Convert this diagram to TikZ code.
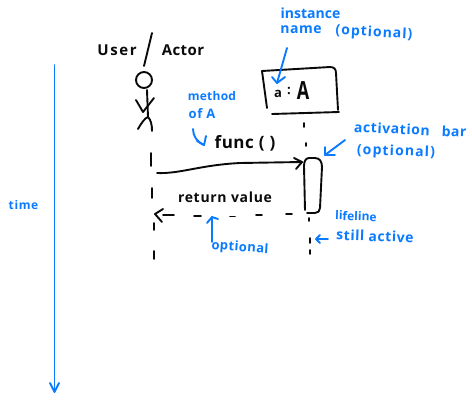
\documentclass[tikz,border=0pt]{standalone}
\usepackage{fontspec}
\setmainfont{Open Sans}
\usetikzlibrary{arrows.meta}
\definecolor{inkblue}{HTML}{0A7BFF}
\definecolor{inkblack}{HTML}{0A0A0A}
\newcommand{\fsz}[2]{\fontsize{#1}{#1}\selectfont\addfontfeature{LetterSpace=#2}}
\tikzset{
  x=1pt,y=-1pt,
  inkb/.style={draw=inkblack,line width=1.9pt,line cap=round,line join=round},
  inkc/.style={draw=inkblue,line width=1.9pt,line cap=round,line join=round},
  blab/.style={text=inkblue,inner sep=0pt},
  klab/.style={text=inkblack,inner sep=0pt},
}
\begin{document}
\begin{tikzpicture}
\useasboundingbox (0,0) rectangle (472,400);
% black labels
\node[klab,font=\bfseries\fsz{15}{11}] (user) at (117,50) {User};
\node[klab,font=\bfseries\fsz{15}{3}] (actor) at (183,50) {Actor};
\node[klab,font=\bfseries\fsz{17}{3}] (func) at (245,143) {func ( )};
\node[klab,font=\bfseries\fsz{14}{5}] (ret) at (225,197) {return value};
\node[klab,font=\bfseries\fsz{13}{0}] (ia) at (278,94) {a};
\node[klab,font=\bfseries\fsz{13}{0}] (ic) at (289,91) {:};
\node[klab,font=\bfseries\fsz{25}{0},xscale=.72,transform shape] (iA) at (303,91) {A};
% slash
\draw[inkb] (152,33) -- (144,66);
% stick figure
\node[circle,inkb,minimum size=16pt,inner sep=0pt] (head) at (144,80) {};
\coordinate (hip) at (148,117);
\draw[inkb] (head.south) ++(3,1) coordinate (neck) -- (hip);
\draw[inkb] (136,100) -- (143,112) -- (154,98);
\draw[inkb] (138,129) .. controls (142,122) and (145,118) .. (hip) .. controls (151,120) and (152,125) .. (152,131);
% instance box
\coordinate (b1) at (262,71); \coordinate (b2) at (267,108);
\draw[inkb] (b2) -- (b1) -- (330,67) .. controls (334,67) and (336,69) .. (336,73) -- (338,110);
\draw[inkb] (272,114) -- (339,112);
% activation bar
\draw[inkb] (305,210) -- (304,166) .. controls (304,161) and (306,158) .. (309,158) -- (315,158) .. controls (320,158) and (322,162) .. (322,167) -- (320,208) .. controls (320,211) and (318,213) .. (315,213) -- (307,213);
% lifelines
\draw[inkb] (151,153) -- (151,166);
\draw[inkb] (152,188) -- (152,198);
\draw[inkb] (154,223) -- (154,230);
\draw[inkb] (154,251) -- (154,259);
\draw[inkb] (304,123) -- (304,127);
\draw[inkb] (306,143) -- (306,146);
\draw[inkb] (309,218) -- (309,221);
\draw[inkb] (310,238) -- (310,243);
\draw[inkb] (310,250) -- (310,254);
% call message
\coordinate (msgA) at (157,173);
\coordinate (msgB) at (302,162);
\draw[inkb] (msgA) .. controls (180,174) and (200,165) .. (240,163) -- (msgB);
\draw[inkb] (294,158) -- (msgB) -- (296,169);
% return message
\coordinate (retHead) at (155,214);
\draw[inkb] (163,209) -- (retHead) -- (162,222);
\draw[inkb] (retHead) ++(8,1) -- (174,215);
\draw[inkb] (194,216) -- (201,216);
\draw[inkb] (230,216.5) -- (235,216.5);
\draw[inkb] (256,215) -- (262,215);
\draw[inkb] (286,214) -- (292,214);
% blue labels
\node[blab,font=\bfseries\fsz{14}{0}] (inst) at (310.5,13) {instance};
\node[blab,font=\bfseries\fsz{14}{4}] (nm) at (301,30) {name};
\node[blab,font=\bfseries\fsz{14}{7},rotate=-3] (opt1) at (374,33) {(optional)};
\node[blab,font=\bfseries\fsz{12}{2}] (meth) at (212,96) {method};
\node[blab,font=\bfseries\fsz{13}{5}] (ofa) at (202,114) {of A};
\node[blab,font=\bfseries\fsz{14}{4},rotate=-2.5,anchor=west] (actv) at (354,127) {activation\hspace{12pt}bar};
\node[blab,font=\bfseries\fsz{14}{8},rotate=-2] (opt2) at (396,152) {(optional)};
\node[blab,font=\bfseries\fsz{12}{0},rotate=-2] (life) at (356,216) {lifeline};
\node[blab,font=\bfseries\fsz{14}{4},rotate=-2] (still) at (375,236) {still active};
\node[blab,font=\bfseries\fsz{13}{3},rotate=-4] (opt3) at (240,248) {optional};
\node[blab,font=\bfseries\fsz{12}{5}] (time) at (23.5,205) {time};
% blue arrows
\coordinate (a1s) at (287,48); \coordinate (a1e) at (277,83);
\draw[inkc] (a1s) -- (a1e);
\draw[inkc] (272,77) -- (a1e) -- (285,77);
\coordinate (a2s) at (193,129); \coordinate (a2e) at (204,145);
\draw[inkc] (a2s) .. controls (193,136) and (197,142) .. (a2e);
\draw[inkc] (197,141) -- (a2e) -- (206,136);
\coordinate (a3s) at (345,140); \coordinate (a3e) at (325,155);
\draw[inkc] (a3s) -- (a3e);
\draw[inkc] (325,147) -- (a3e) -- (335,155);
\coordinate (a4s) at (328,239); \coordinate (a4e) at (316,239);
\draw[inkc] (a4s) -- (a4e);
\draw[inkc] (320,235) -- (a4e) -- (320,243);
\coordinate (a5s) at (212,242); \coordinate (a5e) at (212,217);
\draw[inkc] (a5s) -- (a5e);
\draw[inkc] (207,223) -- (a5e) -- (218,219);
\coordinate (a6s) at (54.5,65); \coordinate (a6e) at (54.5,392);
\draw[inkc] (a6s) -- (a6e);
\draw[inkc] (50,383) -- (a6e) -- (59,383);
\end{tikzpicture}
\end{document}
